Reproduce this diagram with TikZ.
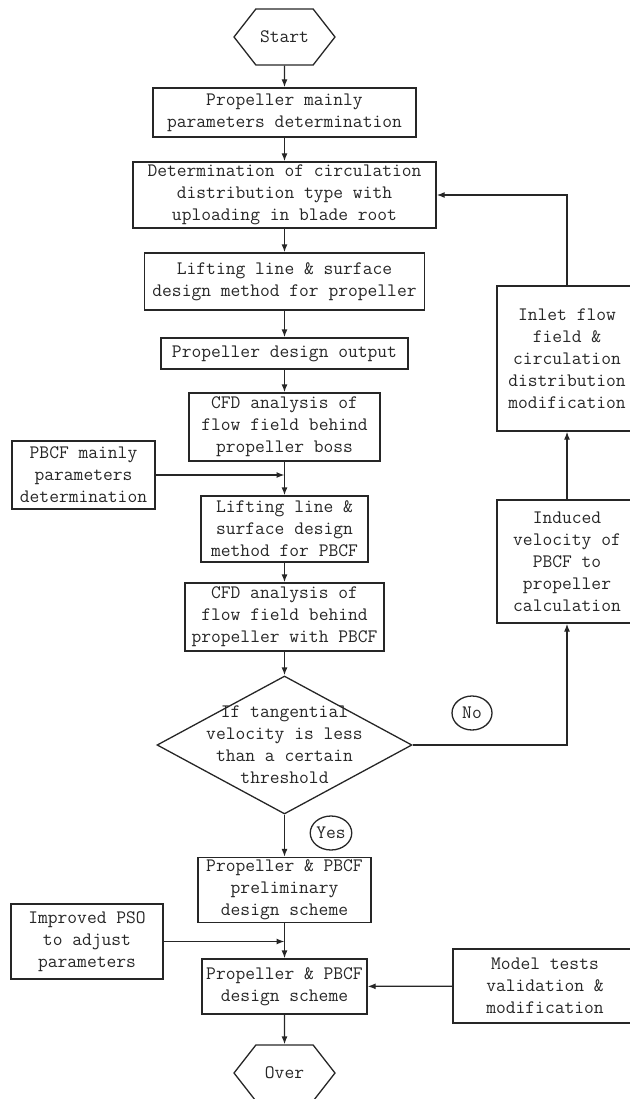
\documentclass[tikz,border=0pt]{standalone}
\usepackage{fontspec}
\usetikzlibrary{arrows.meta,shapes.geometric,shapes.symbols}

\begin{document}
\begin{tikzpicture}[x=1pt, y=-1pt, line width=1.3pt, color=black!85,
	>={Latex[length=8pt,width=6pt]},
	txt/.style={font=\fontsize{19}{22}\ttfamily, align=center, inner sep=0pt},
	stepbox/.style={txt, draw, rectangle},
	hexa/.style={txt, draw, signal, signal to=east and west, signal pointer angle=104, minimum width=101, minimum height=56},
	decision/.style={draw, diamond, inner sep=0pt, minimum width=255, minimum height=138},
	answer/.style={txt, draw, ellipse, minimum width=40, minimum height=34}]
	\useasboundingbox (0, 0) rectangle (629, 1099);

	\node [hexa] (start) at (284.5, 37) {Start};
	\node [stepbox, minimum width=263, minimum height=49] (mainpar) at (284.5, 112.5) {Propeller mainly\\parameters determination};
	\node [stepbox, minimum width=303, minimum height=66] (circ) at (284.5, 195) {Determination of circulation\\distribution type with\\uploading in blade root};
	\node [stepbox, minimum width=280, minimum height=57] (liftprop) at (284.5, 281.5) {Lifting line \& surface\\design method for propeller};
	\node [stepbox, minimum width=247, minimum height=31] (output) at (284.5, 353.5) {Propeller design output};
	\node [stepbox, minimum width=191, minimum height=68] (cfdboss) at (284.5, 427) {CFD analysis of\\flow field behind\\propeller boss};
	\node [stepbox, minimum width=143, minimum height=68] (pbcfpar) at (83.5, 475) {PBCF mainly\\parameters\\determination};
	\node [stepbox, minimum width=167, minimum height=66] (liftpbcf) at (284.5, 529) {Lifting line \&\\surface design\\method for PBCF};
	\node [stepbox, minimum width=199, minimum height=68] (cfdpbcf) at (284.5, 617) {CFD analysis of\\flow field behind\\propeller with PBCF};
	\node [decision] (cond) at (284.5, 745) {};
	\node [txt] (condtxt) at (cond) {If tangential\\velocity is less\\than a certain\\threshold};
	\node [answer] (no) at (472, 713) {No};
	\node [answer] (yes) at (331, 833) {Yes};
	\node [stepbox, minimum width=140, minimum height=123] (induced) at (567, 561.5) {Induced\\velocity of\\PBCF to\\propeller\\calculation};
	\node [stepbox, minimum width=140, minimum height=145] (inlet) at (567, 358.5) {Inlet flow\\field \&\\circulation\\distribution\\modification};
	\node [stepbox, minimum width=173, minimum height=65] (prelim) at (284.5, 890) {Propeller \& PBCF\\preliminary\\design scheme};
	\node [stepbox, minimum width=152, minimum height=75] (pso) at (87, 941.5) {Improved PSO\\to adjust\\parameters};
	\node [stepbox, minimum width=165, minimum height=55] (final) at (284.5, 986.5) {Propeller \& PBCF\\design scheme};
	\node [stepbox, minimum width=184, minimum height=74] (model) at (545, 986) {Model tests\\validation \&\\modification};
	\node [hexa] (over) at (284.5, 1073) {Over};

	\draw [->] (start) -- (mainpar);
	\draw [->] (mainpar) -- (circ);
	\draw [->] (circ) -- (liftprop);
	\draw [->] (liftprop) -- (output);
	\draw [->] (output) -- (cfdboss);
	\draw [->] (cfdboss) -- (liftpbcf);
	\draw [->] (pbcfpar) -- (pbcfpar -| liftpbcf);
	\draw [->] (liftpbcf) -- (cfdpbcf);
	\draw [->] (cfdpbcf) -- (cond.north);
	\draw [->] (cond.east) -| (induced.south);
	\draw [->] (induced) -- (inlet);
	\draw [->] (inlet.north) |- (circ.east);
	\draw [->] (cond.south) -- (prelim);
	\draw [->] (prelim) -- (final);
	\draw [->] (pso) -- (pso -| final);
	\draw [->] (model) -- (final);
	\draw [->] (final) -- (over);
\end{tikzpicture}
\end{document}
